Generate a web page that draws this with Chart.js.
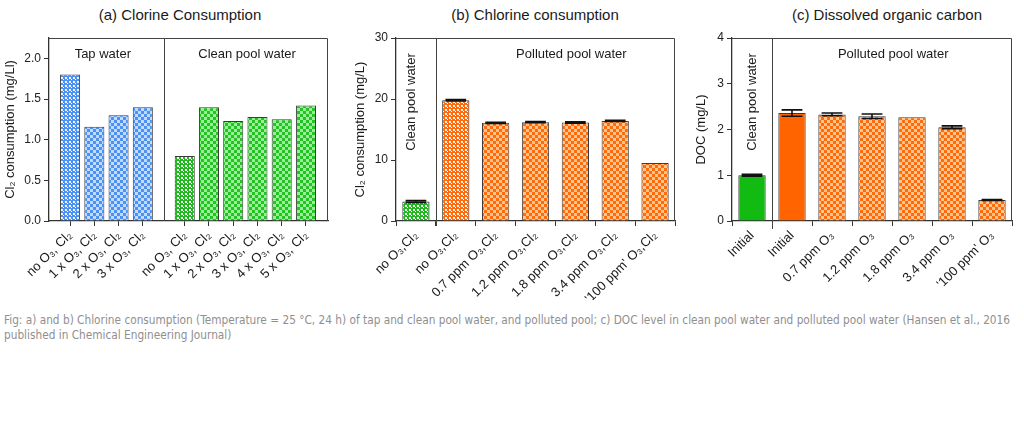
<!DOCTYPE html>
<html><head><meta charset="utf-8">
<script src="https://cdn.jsdelivr.net/npm/chart.js@4/dist/chart.umd.min.js"></script>
<style>
html,body{margin:0;padding:0;background:#fff;width:1024px;height:430px;overflow:hidden;}
canvas{position:absolute;top:0;}
.ttl{position:absolute;top:6px;font:15px "Liberation Sans",Arial,sans-serif;color:#1a1a1a;white-space:nowrap;transform:translateX(-50%);}
#cap{position:absolute;left:4px;top:313px;font:12px "Liberation Sans Narrow","DejaVu Sans Condensed","Liberation Sans",sans-serif;color:#8f8f8f;line-height:15px;white-space:nowrap;transform-origin:0 0;}
#cap1{display:inline-block;}
</style></head><body>
<div class="ttl" style="left:180px">(a) Clorine Consumption</div>
<div class="ttl" style="left:535px">(b) Chlorine consumption</div>
<div class="ttl" style="left:887px">(c) Dissolved organic carbon</div>
<canvas id="ca" width="340" height="300" style="left:0px"></canvas>
<canvas id="cb" width="345" height="300" style="left:340px"></canvas>
<canvas id="cc" width="344" height="300" style="left:680px"></canvas>
<div id="cap"><div id="cap1">Fig: a) and b) Chlorine consumption (Temperature = 25 °C, 24 h) of tap and clean pool water, and polluted pool; c) DOC level in clean pool water and polluted pool water (Hansen et al., 2016</div><div>published in Chemical Engineering Journal)</div></div>
<script>
// ---------- DATA ----------
const tapLabels = ['no O₃, Cl₂','1 x O₃, Cl₂','2 x O₃, Cl₂','3 x O₃, Cl₂'];
const tapValues = [1.80, 1.16, 1.30, 1.40];
const poolLabels = ['no O₃, Cl₂','1 x O₃, Cl₂','2 x O₃, Cl₂','3 x O₃, Cl₂','4 x O₃, Cl₂','5 x O₃, Cl₂'];
const poolValues = [0.80, 1.40, 1.23, 1.28, 1.25, 1.42];
const aTicks = [0, 0.5, 1.0, 1.5, 2.0];

const bLabels = ['no O₃,Cl₂','no O₃,Cl₂','0.7 ppm O₃,Cl₂','1.2 ppm O₃,Cl₂','1.8 ppm O₃,Cl₂','3.4 ppm O₃,Cl₂',"'100 ppm' O₃,Cl₂"];
const bValues = [3.2, 19.8, 16.1, 16.2, 16.15, 16.4, 9.5];
const bErrors = [0.15, 0.12, 0.1, 0.1, 0.1, 0.1, 0];
const bTicks = [0, 10, 20, 30];

const cLabels = ['Initial','Initial','0.7 ppm O₃','1.2 ppm O₃','1.8 ppm O₃','3.4 ppm O₃',"'100 ppm' O₃"];
const cValues = [1.0, 2.36, 2.33, 2.29, 2.27, 2.05, 0.46];
const cErrors = [0.02, 0.07, 0.03, 0.05, 0, 0.03, 0.01];
const cTicks = [0, 1, 2, 3, 4];

// ---------- STYLE ----------
const FONT = '"Liberation Sans", Arial, sans-serif';
Chart.defaults.font.family = FONT;
Chart.defaults.color = '#222';
const AXIS = '#333';
const GROUP_GAP = 0.73;

function tileCanvas(n){const c=document.createElement('canvas');c.width=n;c.height=n;return c;}
function checker(dark, light){
  const c=tileCanvas(6), g=c.getContext('2d');
  g.fillStyle=light; g.fillRect(0,0,6,6);
  g.fillStyle=dark; g.fillRect(0,0,3,3); g.fillRect(3,3,3,3);
  return g.createPattern(c,'repeat');
}
function dots(dark, light){
  const c=tileCanvas(4), g=c.getContext('2d');
  g.fillStyle=dark; g.fillRect(0,0,4,4);
  g.fillStyle=light; g.fillRect(1,1,2,2);
  g.fillStyle='#ffffff'; g.fillRect(1,1,1,1); g.fillRect(3,3,1,1);
  return g.createPattern(c,'repeat');
}
const blueChk = checker('#4b92f2', '#c3dafc');
const blueDot = dots('#4b92f2', '#e6f0ff');
const greenChk = checker('#22c422', '#9cec9c');
const greenDot = dots('#22b822', '#e9fbe9');
const orangeChk = checker('#ff6a0a', '#ffc58e');
const orangeDot = dots('#ff6a0a', '#fff0e2');
const greenSolid = '#12bb12';
const orangeSolid = '#ff6400';

const panelPlugin = {
  id: 'panel',
  afterDatasetsDraw(chart, args, o){
    const {ctx, chartArea:a, scales:{x, y}} = chart;
    ctx.save();
    if (o.errors){
      const meta = chart.getDatasetMeta(0);
      const vals = chart.data.datasets[0].data;
      ctx.strokeStyle = '#111'; ctx.lineWidth = 1.6;
      o.errors.forEach((e,i)=>{
        if(!e) return;
        const el = meta.data[i];
        const v = typeof vals[i]==='object' ? vals[i].y : vals[i];
        const yt = y.getPixelForValue(v+e), yb = y.getPixelForValue(v-e);
        const hw = el.width*0.38;
        ctx.beginPath();
        ctx.moveTo(el.x, yt); ctx.lineTo(el.x, yb);
        ctx.moveTo(el.x-hw, yt); ctx.lineTo(el.x+hw, yt);
        ctx.moveTo(el.x-hw, yb); ctx.lineTo(el.x+hw, yb);
        ctx.stroke();
      });
    }
    ctx.strokeStyle = '#444'; ctx.lineWidth = 1;
    ctx.beginPath();
    ctx.moveTo(a.left, a.top+0.5); ctx.lineTo(a.right-0.5, a.top+0.5); ctx.lineTo(a.right-0.5, a.bottom);
    const dx = Math.round(x.getPixelForValue(o.divider))+0.5;
    ctx.moveTo(dx, a.top); ctx.lineTo(dx, a.bottom + o.dividerExt);
    ctx.stroke();
    ctx.fillStyle = '#1a1a1a'; ctx.font = '13px ' + FONT;
    ctx.textAlign = 'center'; ctx.textBaseline = 'middle';
    o.labels.forEach(g=>{
      const px = x.getPixelForValue(g.at);
      if (g.rotate){
        ctx.save(); ctx.translate(px, a.top+g.dy); ctx.rotate(-Math.PI/2);
        ctx.fillText(g.text, 0, 0); ctx.restore();
      } else ctx.fillText(g.text, px, a.top+g.dy);
    });
    ctx.restore();
  }
};

function yScale(min, max, ticks, width, title, tpad, fmt){
  return {
    min, max,
    afterBuildTicks: s => { s.ticks = ticks.map(v=>({value:v})); },
    afterFit: s => { s.width = width; },
    ticks: {callback: fmt, font:{size:12}, color:'#222', padding:3},
    grid: {drawOnChartArea:false, tickLength:5, color:AXIS, lineWidth:1},
    border: {color:AXIS, width:1.3},
    title: {display:true, text:title, font:{size:13}, color:'#1a1a1a', padding:{top:tpad, bottom:0}}
  };
}
function xCommon(h){
  return {
    afterFit: s => { s.height = h; },
    ticks: {autoSkip:false, maxRotation:45, minRotation:45, font:{size:13}, color:'#1a1a1a', padding:2},
    grid: {drawOnChartArea:false, tickLength:5, color:AXIS, lineWidth:1},
    border: {color:AXIS, width:1.3}
  };
}
const baseOpts = {responsive:false, animation:false, events:[],
  plugins:{legend:{display:false}, tooltip:{enabled:false}}};

// ---------- CHART A ----------
const aPos = tapValues.map((v,i)=>i).concat(poolValues.map((v,j)=>tapValues.length+GROUP_GAP+j));
const aLabels = tapLabels.concat(poolLabels);
const aVals = tapValues.concat(poolValues);
const aFill = tapValues.map((v,i)=> i===0?blueDot:blueChk).concat(poolValues.map((v,j)=> j===0?greenDot:greenChk));
const xa = xCommon(79);
Object.assign(xa, {type:'linear', offset:false, min:-0.87, max:aPos[aPos.length-1]+0.91,
  afterBuildTicks: s => { s.ticks = aPos.map(v=>({value:v})); }});
xa.grid.offset = false;
xa.ticks.callback = (v,i)=>aLabels[i];
new Chart(document.getElementById('ca'), {
  type:'bar',
  data:{datasets:[{data:aPos.map((p,i)=>({x:p, y:aVals[i]})), backgroundColor:aFill,
    borderColor:'#3a3a3a', borderWidth:1, barPercentage:0.9, categoryPercentage:0.92}]},
  options:Object.assign({}, baseOpts, {
    layout:{padding:{top:38, right:12, left:0, bottom:0}},
    scales:{x:xa, y:yScale(0, 2.25, aTicks, 49, 'Cl₂ consumption (mg/Ll)', 3, v=>v.toFixed(1))},
    plugins:Object.assign({}, baseOpts.plugins, {panel:{
      divider:(tapValues.length-1 + tapValues.length+GROUP_GAP)/2, dividerExt:0,
      labels:[{text:'Tap water', at:1.35, dy:16}, {text:'Clean pool water', at:7.3, dy:16}]}})
  }),
  plugins:[panelPlugin]
});

// ---------- CHART B ----------
const bFill = bValues.map((v,i)=> i===0?greenDot : i===1?orangeDot : orangeChk);
const xb = xCommon(79); xb.type='category';
new Chart(document.getElementById('cb'), {
  type:'bar',
  data:{labels:bLabels, datasets:[{data:bValues, backgroundColor:bFill, borderColor:'#3a3a3a',
    borderWidth:1, barPercentage:0.76, categoryPercentage:0.9}]},
  options:Object.assign({}, baseOpts, {
    layout:{padding:{top:38, right:10, left:0, bottom:0}},
    scales:{x:xb, y:yScale(0, 30, bTicks, 56, 'Cl₂ consumption (mg/L)', 13, v=>String(v))},
    plugins:Object.assign({}, baseOpts.plugins, {panel:{
      errors:bErrors, divider:0.5, dividerExt:5,
      labels:[{text:'Clean pool water', at:-0.12, dy:64, rotate:true}, {text:'Polluted pool water', at:3.9, dy:16}]}})
  }),
  plugins:[panelPlugin]
});

// ---------- CHART C ----------
const cFill = cValues.map((v,i)=> i===0?greenSolid : i===1?orangeSolid : orangeChk);
const xc = xCommon(79); xc.type='category';
new Chart(document.getElementById('cc'), {
  type:'bar',
  data:{labels:cLabels, datasets:[{data:cValues, backgroundColor:cFill, borderColor:'#3a3a3a',
    borderWidth:1, barPercentage:0.76, categoryPercentage:0.9}]},
  options:Object.assign({}, baseOpts, {
    layout:{padding:{top:38, right:12, left:0, bottom:0}},
    scales:{x:xc, y:yScale(0, 4, cTicks, 52, 'DOC (mg/L)', 14, v=>String(v))},
    plugins:Object.assign({}, baseOpts.plugins, {panel:{
      errors:cErrors, divider:0.5, dividerExt:8,
      labels:[{text:'Clean pool water', at:0, dy:64, rotate:true}, {text:'Polluted pool water', at:3.53, dy:16}]}})
  }),
  plugins:[panelPlugin]
});

(function(){
  const cap=document.getElementById('cap'), c1=document.getElementById('cap1');
  const w=c1.getBoundingClientRect().width;
  if(w>0) cap.style.transform='scaleX('+(1006/w)+')';
})();
</script>
</body></html>
